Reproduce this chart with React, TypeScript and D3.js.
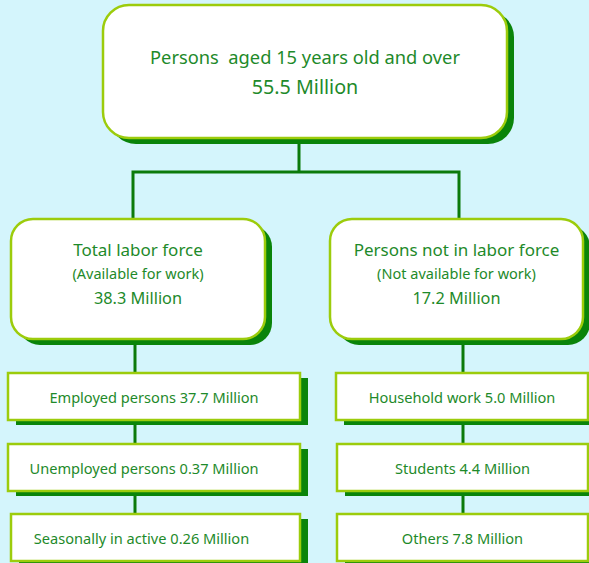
import React from "react";
import * as d3 from "d3";

// ---- data ----
const rootLabel = "Persons  aged 15 years old and over";
const rootValue = 55.5;
const groupTitles = ["Total labor force", "Persons not in labor force"];
const groupNotes = ["(Available for work)", "(Not available for work)"];
const groupValues = [38.3, 17.2];
const leftItems = ["Employed persons", "Unemployed persons", "Seasonally in active"];
const leftValues = [37.7, 0.37, 0.26];
const rightItems = ["Household work", "Students", "Others"];
const rightValues = [5.0, 4.4, 7.8];

const W = 589;
const H = 563;
const BG = "#d4f5fc";
const TEXT = "#1e8a2a";
const BORDER = "#9ccc0c";
const SHADOW = "#0a840a";
const LINE = "#0b7a0b";
const FONT = "'Noto Sans', 'Open Sans', sans-serif";

const fmt = (v: number) => (v < 1 ? d3.format(".2f")(v) : d3.format(".1f")(v)) + " Million";

type Box = { x: number; y: number; w: number; h: number; rx: number; sdx: number; sdy: number };

function ShadowBox({ b, sw }: { b: Box; sw: number }) {
  return (
    <g>
      <rect x={b.x + b.sdx} y={b.y + b.sdy} width={b.w} height={b.h} rx={b.rx} fill={SHADOW} />
      <rect x={b.x} y={b.y} width={b.w} height={b.h} rx={b.rx} fill="#fff" stroke={BORDER} strokeWidth={sw} />
    </g>
  );
}

export default function App() {
  // layout
  const top: Box = { x: 103, y: 5, w: 404, h: 133, rx: 26, sdx: 7, sdy: 6 };
  const groupX = d3.scaleOrdinal<number, number>().domain([0, 1]).range([11, 330]);
  const groupW = [254, 253];
  const groupY = 219;
  const groupH = 120;
  const leafRow = d3.scaleOrdinal<number, number>().domain([0, 1, 2]).range([373, 444, 514]);
  const leafH = 47;
  const leafX = [[8, 8, 11], [336, 337, 337]];
  const leafTextDx = [[0, -10, -14], [0, 0, 0]];
  const leafRight = [300, 588];
  const colLineX = [135, 463];
  const branchX = [133, 459];
  const barY = 172;
  const trunkX = 299;

  const groups = [0, 1].map((i) => ({
    box: { x: groupX(i), y: groupY, w: groupW[i], h: groupH, rx: 22, sdx: 7, sdy: 6 } as Box,
    title: groupTitles[i],
    note: groupNotes[i],
    value: groupValues[i],
  }));
  const leaves = [leftItems.map((n, j) => ({ label: `${n} ${fmt(leftValues[j])}`, j })),
                  rightItems.map((n, j) => ({ label: `${n} ${fmt(rightValues[j])}`, j }))];

  return (
    <svg width={W} height={H} style={{ position: "absolute", left: 0, top: 0, fontFamily: FONT }}>
      <rect x={0} y={0} width={W} height={H} fill={BG} />
      {/* connectors */}
      <g stroke={LINE} strokeWidth={3} fill="none">
        <line x1={trunkX} y1={top.y + top.h} x2={trunkX} y2={barY} />
        <polyline points={`${branchX[0]},${groupY} ${branchX[0]},${barY} ${branchX[1]},${barY} ${branchX[1]},${groupY}`} />
        {[0, 1].map((i) => (
          <line key={i} x1={colLineX[i]} y1={groupY + groupH} x2={colLineX[i]} y2={leafRow(2)} />
        ))}
      </g>
      {/* top box */}
      <ShadowBox b={top} sw={2.5} />
      <text x={top.x + top.w / 2} y={56} textAnchor="middle" dominantBaseline="central" fill={TEXT} fontSize={18.3} style={{ whiteSpace: "pre" }}>
        {rootLabel}
      </text>
      <text x={top.x + top.w / 2} y={86} textAnchor="middle" dominantBaseline="central" fill={TEXT} fontSize={19.7}>
        {fmt(rootValue)}
      </text>
      {/* group boxes */}
      {groups.map((g, i) => {
        const cx = g.box.x + g.box.w / 2;
        return (
          <g key={i}>
            <ShadowBox b={g.box} sw={2.5} />
            <text x={cx} y={249} textAnchor="middle" dominantBaseline="central" fill={TEXT} fontSize={17}>{g.title}</text>
            <text x={cx} y={272.5} textAnchor="middle" dominantBaseline="central" fill={TEXT} fontSize={14.5}>{g.note}</text>
            <text x={cx} y={297.5} textAnchor="middle" dominantBaseline="central" fill={TEXT} fontSize={16.3}>{fmt(g.value)}</text>
          </g>
        );
      })}
      {/* leaf boxes */}
      {leaves.map((col, i) =>
        col.map((l) => {
          const x = leafX[i][l.j];
          const b: Box = { x, y: leafRow(l.j), w: leafRight[i] - x, h: leafH, rx: 0, sdx: 8, sdy: 5 };
          return (
            <g key={`${i}-${l.j}`}>
              <ShadowBox b={b} sw={2.5} />
              <text x={b.x + b.w / 2 + leafTextDx[i][l.j]} y={b.y + b.h / 2} textAnchor="middle" dominantBaseline="central" fill={TEXT} fontSize={14.6}>
                {l.label}
              </text>
            </g>
          );
        })
      )}
    </svg>
  );
}
